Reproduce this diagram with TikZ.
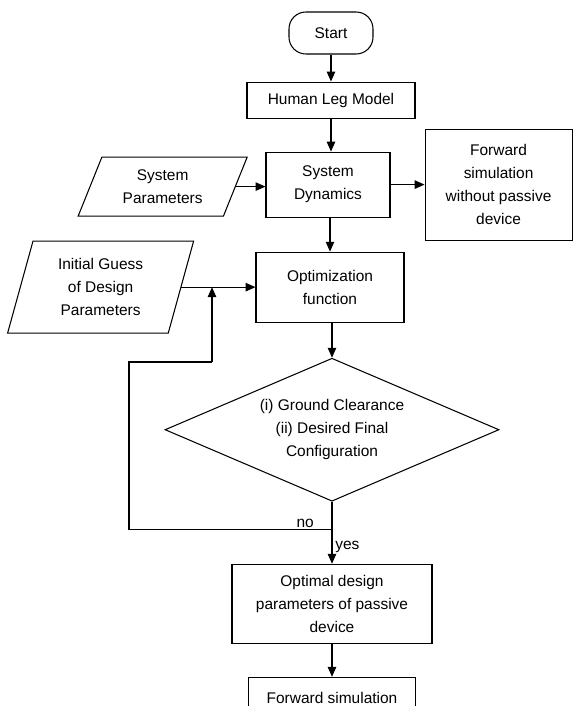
\documentclass[tikz,border=0pt]{standalone}
\usepackage{fontspec}
\setmainfont{Liberation Sans}
\usepackage{tikz}
\usetikzlibrary{shapes.geometric}
\usetikzlibrary{positioning}
\usetikzlibrary{arrows.meta}

\begin{document}
\begin{tikzpicture}[->,>={Triangle[length=7pt,width=6pt]},line width=0.75pt,
		every node/.style={font=\fontsize{11pt}{16.3pt}\selectfont,align=center,inner sep=2pt},
		block node/.style={rectangle,draw},
		term node/.style={rectangle,draw,rounded corners=12pt},
		io node/.style={trapezium,draw,trapezium stretches body},
		test node/.style={diamond,draw,aspect=2.3,inner sep=0pt}]
		
		\useasboundingbox (-8.275,0.825) rectangle (6.05,-16.825);
		
		\node[term node, minimum width=2.1cm, minimum height=1.05cm] (start) at (0,0) {Start};
		\node[block node, minimum width=4.2cm, minimum height=0.9cm] (leg) [below=0.675cm of start] {Human Leg Model};
		\node[block node, minimum width=3.1cm, minimum height=1.625cm] (dyn) [below=0.825cm of leg, xshift=-0.075cm] {System\\Dynamics};
		\node[io node, trapezium left angle=59, trapezium right angle=121,
			minimum width=4.225cm, minimum height=1.475cm] (par) [left=0.74cm of dyn, yshift=-0.05cm] {System\\Parameters};
		\node[block node, minimum width=3.675cm, minimum height=2.775cm] (free) [right=0.85cm of dyn] {Forward\\simulation\\without passive\\device};
		\node[block node, minimum width=3.7cm, minimum height=1.75cm] (opt) [below=0.85cm of dyn, xshift=0.05cm] {Optimization\\function};
		\node[io node, trapezium left angle=68, trapezium right angle=112,
			minimum width=4.65cm, minimum height=2.3cm] (guess) [left=1.85cm of opt] {Initial Guess\\of Design\\Parameters};
		\node[test node, minimum width=8.35cm, minimum height=3.575cm] (check) [below=0.875cm of opt, xshift=0.05cm] {(i) Ground Clearance\\(ii) Desired Final\\Configuration};
		\node[block node, minimum width=5cm, minimum height=1.975cm] (best) [below=1.55cm of check] {Optimal design\\parameters of passive\\device};
		\node[block node, minimum width=4.175cm, minimum height=1.05cm] (sim) [below=0.825cm of best] {Forward simulation};
		
		\coordinate (split) at ([yshift=-0.7cm]check.south);
		\coordinate (backa) at (-5.05,-8.225);
		\coordinate (backb) at (-2.975,-8.225);
		
		\draw (start) -- (leg);
		\draw (leg) -- (leg |- dyn.north);
		\draw (par.east) -- (par.east -| dyn.west);
		\draw (dyn) -- (free);
		\draw (dyn.south -| opt.north) -- (opt.north);
		\draw (guess.east) -- (guess.east -| opt.west);
		\draw (opt.south -| check.north) -- (check.north);
		\draw[-] (check.south) -- (split);
		\draw[-] (split) -| node[pos=0.066,above,inner sep=1pt] {no} (backa) -- (backb);
		\draw (backb) -- (backb |- guess.east);
		\draw (split) -- node[right] {yes} (split |- best.north);
		\draw (best.south -| sim.north) -- (sim.north);
		\end{tikzpicture}
\end{document}
